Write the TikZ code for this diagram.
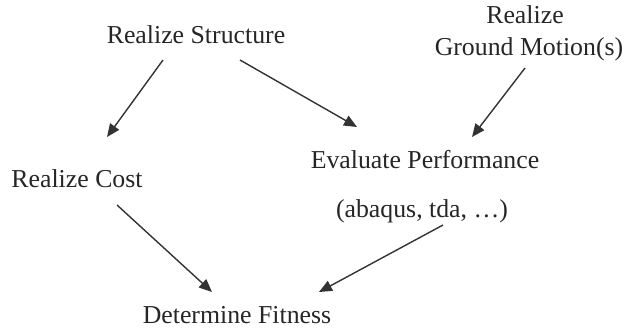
\documentclass[tikz,border=0pt]{standalone}
\usepackage{fontspec}
\setmainfont{Liberation Serif}
\usetikzlibrary{arrows.meta,calc}
\begin{document}
\begin{tikzpicture}[x=0.5pt,y=-0.5pt,
  lbl/.style={anchor=base,inner sep=0pt,font=\fontsize{12.9}{15}\selectfont,text=black!85},
  arr/.style={draw=black!80,line width=0.7pt,-{Triangle[length=6.5pt,width=5.5pt]}}]
\useasboundingbox (0,0) rectangle (626,333);
\node[lbl] (rs) at (196,43) {Realize Structure};
\node[lbl] (rg1) at (525,23) {Realize};
\node[lbl] (rg) at (529,55) {Ground Motion(s)};
\node[lbl] (rc) at (77,187) {Realize Cost};
\node[lbl] (ep) at (425,168) {Evaluate Performance};
\node[lbl] (ab) at (422,217) {(abaqus, tda, …)};
\node[lbl] (df) at (237,323) {Determine Fitness};
\draw[arr] ($(rs.base)+(-33,17)$) -- ($(rc.base)+(30,-50)$);
\draw[arr] ($(rs.base)+(44,17)$) -- ($(ep.base)+(-68,-41)$);
\draw[arr] ($(rg.base)+(-4,13)$) -- ($(ep.base)+(47,-31)$);
\draw[arr] ($(rc.base)+(40,18)$) -- ($(df.base)+(-25,-31)$);
\draw[arr] ($(ab.base)+(21,8)$) -- ($(df.base)+(82,-31)$);
\end{tikzpicture}
\end{document}
